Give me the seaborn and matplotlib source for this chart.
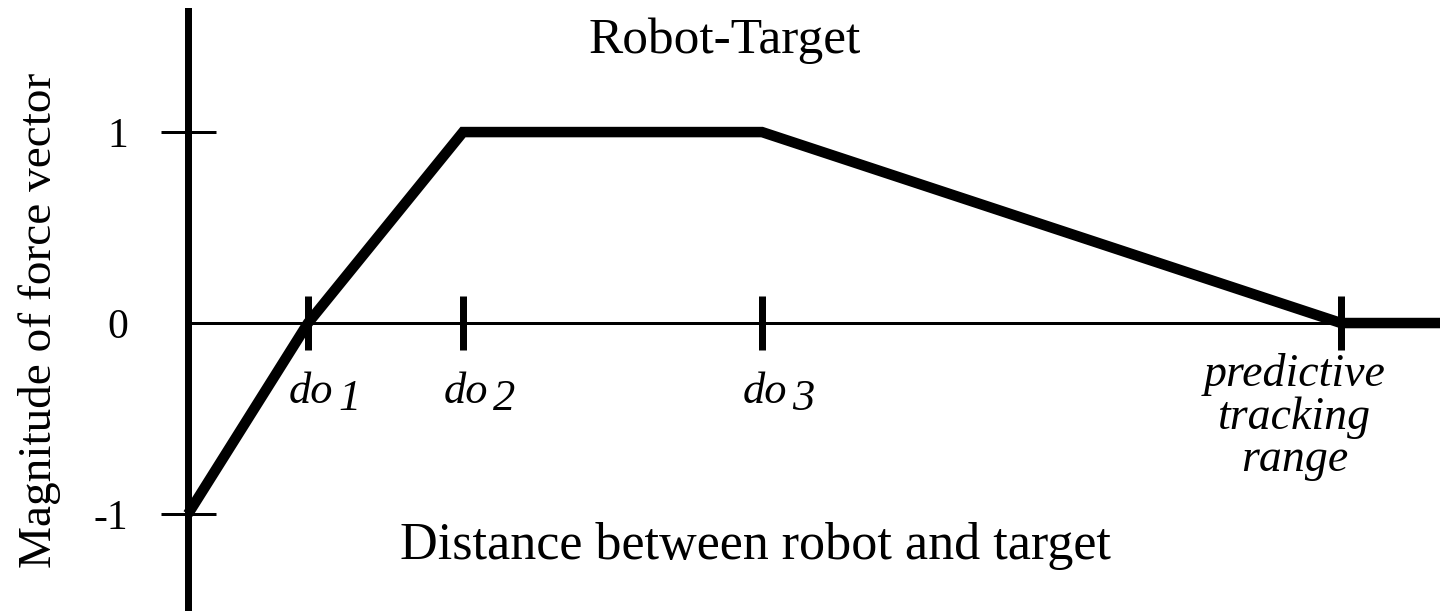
import matplotlib
matplotlib.use("Agg")
import matplotlib.pyplot as plt
import seaborn as sns
import pandas as pd

# Breakpoints of the robot-target force profile (distance units) and magnitude
distance = [0.0, 1.20, 2.75, 5.74, 11.53, 12.52]
magnitude = [-1, 0, 1, 1, 0, 0]

# Marked distances on the horizontal axis
marked_distance = [1.20, 2.75, 5.74, 11.53]
marked_index = ["1", "2", "3"]
range_label = "predictive\ntracking\nrange"

y_ticks = [-1, 0, 1]
y_tick_labels = ["-1", "0", "1"]

title = "Robot-Target"
x_label = "Distance between robot and target"
y_label = "Magnitude of force vector"

sns.set_theme(style="white")
plt.rcParams["font.family"] = ["Liberation Serif", "DejaVu Serif"]
plt.rcParams["axes.unicode_minus"] = False

W, H = 1440, 611
PX = 72.0 / 100.0  # points per pixel at dpi 100

fig = plt.figure(figsize=(W / 100, H / 100), dpi=100)
fig.patch.set_facecolor("white")
ax = fig.add_axes([188 / W, 0, 1 - 188 / W, (H - 11) / H])
ax.set_facecolor("white")

df = pd.DataFrame({"distance": distance, "magnitude": magnitude})
sns.lineplot(data=df, x="distance", y="magnitude", ax=ax, color="black",
             linewidth=10.5 * PX, sort=False, estimator=None)
for ln in ax.lines:
    ln.set_solid_joinstyle("miter")
    ln.set_solid_capstyle("butt")
    ln.set_clip_on(False)

ax.set_xlim(0, distance[-1])
ax.set_ylim(-1.508, 1.634)

# Axis lines: thick vertical axis, thin horizontal axis through zero
for side in ("top", "right"):
    ax.spines[side].set_visible(False)
ax.spines["left"].set_position(("data", 0))
ax.spines["left"].set_linewidth(7 * PX)
ax.spines["left"].set_color("black")
ax.spines["bottom"].set_position(("data", 0))
ax.spines["bottom"].set_linewidth(3 * PX)
ax.spines["bottom"].set_color("black")

ax.set_xticks(marked_distance)
ax.set_xticklabels([])
ax.tick_params(axis="x", bottom=True, direction="inout", length=54 * PX,
               width=7 * PX, color="black")

ax.set_yticks(y_ticks)
ax.set_yticklabels(y_tick_labels, fontsize=30)
ax.tick_params(axis="y", left=True, direction="inout", length=55 * PX,
               width=3 * PX, color="black", pad=23, labelcolor="black")
ax.yaxis.get_major_ticks()[1].tick1line.set_visible(False)
ax.set_xlabel("")
ax.set_ylabel("")
ax.grid(False)

# Italic "do" labels with lowered index under the first three marks
for pos, idx in zip(marked_distance[:3], marked_index):
    ax.annotate("do", xy=(pos, 0), xytext=(-19 * PX, -80 * PX),
                textcoords="offset points", fontsize=32, fontstyle="italic",
                ha="left", va="baseline", color="black")
    ax.annotate(idx, xy=(pos, 0), xytext=(30 * PX, -87 * PX),
                textcoords="offset points", fontsize=32, fontstyle="italic",
                ha="left", va="baseline", color="black")

ax.annotate(range_label, xy=(marked_distance[3], 0), xytext=(-46 * PX, -30 * PX),
            textcoords="offset points", fontsize=33, fontstyle="italic",
            ha="center", va="top", multialignment="center", linespacing=1.0,
            color="black", annotation_clip=False)

fig.text(725 / W, 1 - 53 / H, title, ha="center", va="baseline",
         fontsize=37, color="black")
fig.text(755 / W, 1 - 559 / H, x_label, ha="center", va="baseline",
         fontsize=37.5, color="black")
fig.text(40 / W, 1 - 320 / H, y_label, ha="center", va="center",
         rotation=90, fontsize=34, color="black")

fig.savefig("out.png", dpi=100, facecolor="white")
